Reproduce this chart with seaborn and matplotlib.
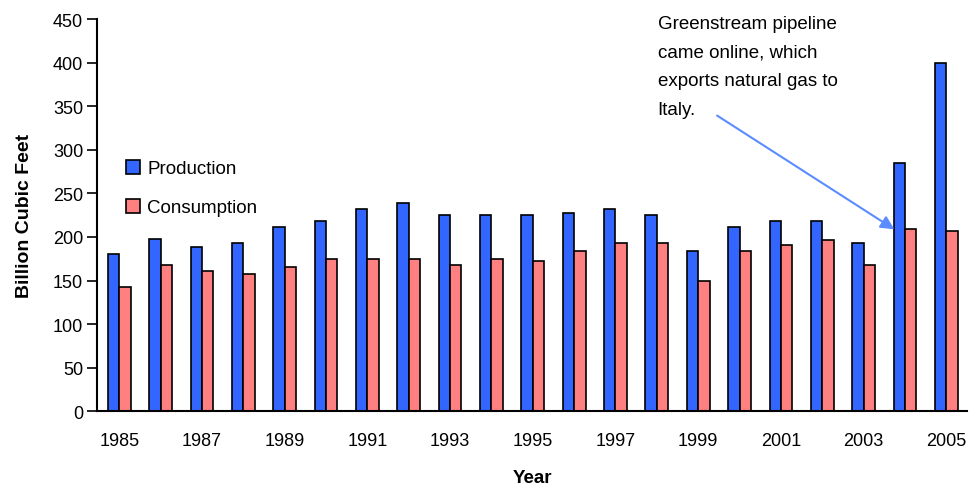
import pandas as pd
import matplotlib.pyplot as plt
import seaborn as sns

# data
years = list(range(1985, 2006))
production = [180, 198, 188, 193, 211, 218, 232, 239, 225, 225, 225,
              227, 232, 225, 184, 211, 218, 218, 193, 285, 399]
consumption = [143, 168, 161, 157, 166, 175, 175, 175, 168, 175, 172,
               184, 193, 193, 149, 184, 191, 197, 168, 209, 207]
series_names = ["Production", "Consumption"]
colors = ["#3366FF", "#FF8080"]
note = "Greenstream pipeline\ncame online, which\nexports natural gas to\nItaly."

df = pd.DataFrame({
    "Year": [str(y) for y in years] * 2,
    "value": production + consumption,
    "Series": [series_names[0]] * len(years) + [series_names[1]] * len(years),
})

sns.set_style("white")
plt.rcParams["font.family"] = ["Liberation Sans", "DejaVu Sans"]
plt.rcParams["text.color"] = "black"
plt.rcParams["axes.labelcolor"] = "black"
plt.rcParams["xtick.color"] = "black"
plt.rcParams["ytick.color"] = "black"

fig = plt.figure(figsize=(9.72, 4.89), dpi=100)
ax = fig.add_axes([0.0998, 0.157, 0.895, 0.802])

sns.barplot(data=df, x="Year", y="value", hue="Series", palette=colors,
            width=0.55, gap=0, edgecolor="black", linewidth=1.2,
            saturation=1, ax=ax)

ax.set_ylim(0, 450)
ax.set_xlim(-0.54, 20.5)
ax.set_yticks(range(0, 451, 50))
ax.set_xticks(range(0, 21, 2))
ax.set_xticklabels([str(y) for y in years[::2]])
ax.tick_params(axis="y", direction="out", length=7, width=1.2,
               labelsize=13, pad=3, left=True)
ax.tick_params(axis="x", length=0, labelsize=13, pad=15)

for s in ["top", "right"]:
    ax.spines[s].set_visible(False)
for s in ["left", "bottom"]:
    ax.spines[s].set_color("black")
    ax.spines[s].set_linewidth(1.5)

ax.set_ylabel("Billion Cubic Feet", fontsize=14, fontweight="bold", labelpad=14)
ax.set_xlabel("Year", fontsize=13.5, fontweight="bold", labelpad=14)

leg = ax.legend(loc="upper left", bbox_to_anchor=(0.022, 0.665), frameon=False,
                fontsize=13.5, handlelength=0.75, handleheight=0.75,
                handletextpad=0.4, labelspacing=1.15, borderpad=0)

ax.annotate("", xy=(18.8, 207), xytext=(14.4, 341),
            arrowprops=dict(arrowstyle="-|>", color="#5B8CFF", lw=1.5,
                            mutation_scale=20))
ax.text(13.02, 455, note, fontsize=13.5, va="top", ha="left",
        linespacing=1.9, clip_on=False)

fig.savefig("out.png", dpi=100)
